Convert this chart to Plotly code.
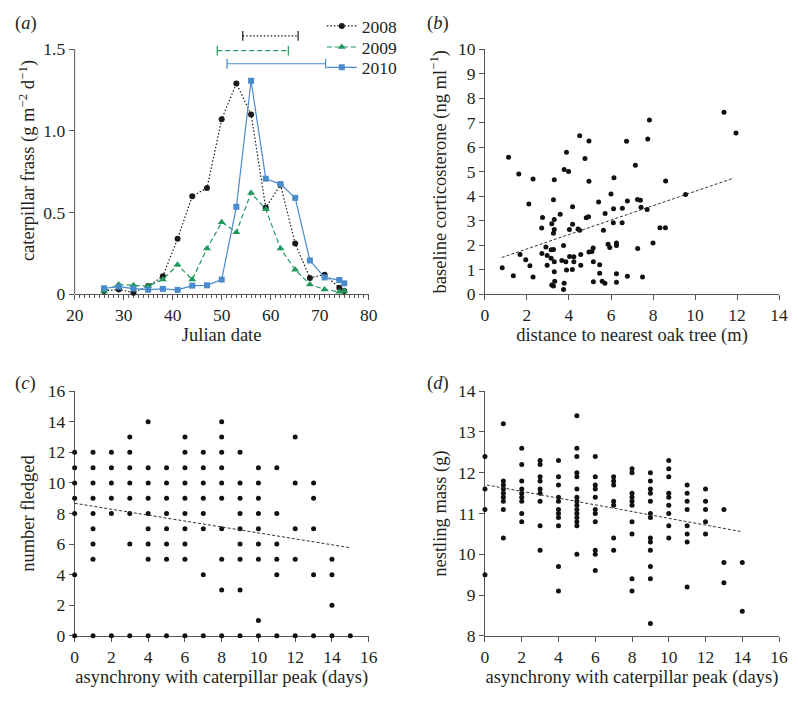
import plotly.graph_objects as go

FONT = "Liberation Serif"
TXT = "#231f20"
AX = "#555555"
C08 = "#1a1a1a"
C09 = "#1f9a5b"
C10 = "#4a8bcb"

# ---------------- (a) caterpillar frass ----------------
julian_day = [26, 29, 32, 35, 38, 41, 44, 47, 50, 53, 56, 59, 62, 65, 68, 71, 74, 75]
frass_2008 = [0.02, 0.03, 0.01, 0.05, 0.11, 0.34, 0.60, 0.65, 1.07, 1.29, 1.10, 0.53, 0.67, 0.31, 0.10, 0.12, 0.04, 0.02]
frass_2009 = [0.02, 0.06, 0.055, 0.05, 0.09, 0.18, 0.09, 0.28, 0.44, 0.38, 0.62, 0.52, 0.28, 0.15, 0.06, 0.03, 0.015, 0.02]
frass_2010 = [0.037, 0.047, 0.035, 0.028, 0.033, 0.027, 0.053, 0.055, 0.09, 0.535, 1.306, 0.707, 0.674, 0.59, 0.207, 0.103, 0.087, 0.067]
years = ["2008", "2009", "2010"]
peak_lo = [54.3, 49.1, 51.1]
peak_hi = [65.6, 63.6, 71.2]
peak_y = [1.58, 1.49, 1.41]

# ---------------- (b) corticosterone ----------------
oak_dist = [0.82, 1.12, 1.35, 1.61, 1.67, 1.94, 2.09, 2.14, 2.29, 2.29,
            2.70, 2.74, 2.71, 2.90, 2.96, 2.96, 3.18, 3.15, 3.15, 3.18,
            3.26, 3.26, 3.26, 3.30, 3.30, 3.30, 3.26, 3.30, 3.30, 3.32,
            3.58, 3.66, 3.74, 3.77, 3.74, 3.77, 3.88, 3.85, 3.88, 3.98,
            4.02, 4.03, 4.17, 4.17, 4.16, 4.23, 4.23, 4.43, 4.51, 4.51,
            4.56, 4.56, 4.76, 4.82, 4.93, 4.95, 4.95, 4.95, 5.09, 5.15,
            5.16, 5.16, 5.41, 5.46, 5.46, 5.58, 5.64, 5.71, 5.72, 5.86,
            5.94, 6.00, 6.14, 6.11, 6.12, 6.26, 6.26, 6.26, 6.26, 6.54,
            6.53, 6.74, 6.78, 6.78, 7.16, 7.26, 7.27, 7.40, 7.43, 7.50,
            7.75, 7.72, 7.83, 8.00, 8.33, 8.59, 8.60, 9.55, 11.38, 11.95]
cort = [1.08, 5.59, 0.76, 4.91, 1.62, 1.41, 3.68, 1.16, 4.70, 0.71,
        2.70, 3.13, 1.66, 1.93, 1.58, 1.18, 2.88, 1.47, 1.82, 0.38,
        1.83, 3.86, 2.49, 2.64, 3.05, 4.67, 0.34, 1.33, 0.92, 0.53,
        3.26, 1.38, 1.99, 0.45, 0.20, 5.09, 5.79, 1.33, 0.99, 5.01,
        2.64, 1.54, 3.57, 2.86, 1.01, 1.53, 1.33, 2.66, 6.46, 2.61,
        1.62, 1.18, 5.54, 3.12, 3.16, 6.25, 4.61, 1.72, 1.74, 1.89,
        1.33, 0.51, 3.76, 1.20, 0.86, 0.53, 2.61, 0.45, 3.29, 2.04,
        1.91, 4.09, 4.75, 2.92, 3.49, 2.09, 1.99, 0.84, 0.49, 3.51,
        2.92, 6.24, 3.80, 0.74, 5.26, 3.87, 1.87, 3.83, 3.55, 0.71,
        6.33, 3.46, 7.11, 2.09, 2.71, 2.71, 4.62, 4.07, 7.42, 6.58]
b_fit_x = [0.8, 11.85]
b_fit_y = [1.50, 4.74]

# ---------------- (c) number fledged ----------------
c_asynchrony = [
    0, 0, 0, 0, 0, 0, 0,
    1, 1, 1, 1, 1, 1, 1, 1, 1,
    2, 2, 2, 2, 2, 2,
    3, 3, 3, 3, 3, 3, 3, 3,
    4, 4, 4, 4, 4, 4, 4, 4, 4,
    5, 5, 5, 5, 5, 5, 5, 5,
    6, 6, 6, 6, 6, 6, 6, 6, 6, 6,
    7, 7, 7, 7, 7, 7, 7, 7,
    8, 8, 8, 8, 8, 8, 8, 8, 8, 8,
    9, 9, 9, 9, 9, 9, 9, 9, 9,
    10, 10, 10, 10, 10, 10, 10, 10, 10,
    11, 11, 11, 11, 11, 11,
    12, 12, 12, 12, 12,
    13, 13, 13, 13, 13,
    14, 14, 14, 14,
    15]
c_fledged = [
    12, 11, 10, 9, 8, 4, 0,
    12, 11, 10, 9, 8, 7, 6, 5, 0,
    12, 11, 10, 9, 8, 0,
    13, 12, 11, 10, 9, 8, 6, 0,
    14, 11, 10, 9, 8, 7, 6, 5, 0,
    11, 10, 9, 8, 7, 6, 5, 0,
    13, 12, 11, 10, 9, 8, 7, 6, 5, 0,
    12, 11, 10, 9, 8, 7, 4, 0,
    14, 13, 12, 11, 10, 9, 7, 5, 3, 0,
    12, 10, 9, 8, 7, 6, 5, 3, 0,
    11, 10, 9, 8, 7, 6, 5, 1, 0,
    11, 8, 6, 5, 4, 0,
    13, 10, 7, 5, 0,
    10, 9, 7, 4, 0,
    5, 4, 2, 0,
    0]
c_fit_x = [0, 14.95]
c_fit_y = [8.67, 5.77]

# ---------------- (d) nestling mass ----------------
d_asynchrony = [
    0, 0, 0, 0,
    1, 1, 1, 1, 1, 1, 1, 1, 1,
    2, 2, 2, 2, 2, 2, 2, 2, 2,
    3, 3, 3, 3, 3, 3, 3, 3, 3,
    4, 4, 4, 4, 4, 4, 4, 4, 4, 4, 4,
    5, 5, 5, 5, 5, 5, 5, 5, 5, 5, 5, 5, 5, 5, 5,
    6, 6, 6, 6, 6, 6, 6, 6, 6, 6, 6,
    7, 7, 7, 7, 7, 7, 7,
    8, 8, 8, 8, 8, 8, 8, 8, 8, 8,
    9, 9, 9, 9, 9, 9, 9, 9, 9, 9, 9, 9, 9,
    10, 10, 10, 10, 10, 10, 10, 10, 10,
    11, 11, 11, 11, 11, 11, 11, 11,
    12, 12, 12, 12, 12,
    13, 13, 13,
    14, 14]
d_mass = [
    12.4, 11.6, 11.1, 9.5,
    13.2, 11.8, 11.7, 11.6, 11.5, 11.4, 11.3, 11.1, 10.4,
    12.6, 12.2, 11.8, 11.6, 11.5, 11.4, 11.3, 11.0, 10.8,
    12.3, 12.2, 11.9, 11.8, 11.6, 11.5, 11.3, 10.7, 10.1,
    12.3, 11.9, 11.7, 11.4, 11.3, 11.1, 11.0, 10.9, 10.7, 9.7, 9.1,
    13.4, 12.6, 12.4, 12.0, 11.9, 11.6, 11.4, 11.3, 11.2, 11.1, 11.0, 10.9, 10.8, 10.7, 10.0,
    12.4, 11.9, 11.7, 11.6, 11.4, 11.1, 11.0, 10.8, 10.1, 10.0, 9.6,
    11.9, 11.8, 11.7, 11.3, 11.2, 10.4, 10.1,
    12.1, 12.0, 11.5, 11.4, 11.3, 11.2, 10.8, 10.5, 9.4, 9.1,
    12.0, 11.8, 11.6, 11.5, 11.3, 11.0, 10.9, 10.4, 10.3, 10.1, 9.7, 9.4, 8.3,
    12.3, 12.1, 11.9, 11.5, 11.4, 11.2, 11.0, 10.7, 10.4,
    11.7, 11.5, 11.3, 11.1, 10.7, 10.5, 10.3, 9.2,
    11.6, 11.3, 11.1, 10.8, 10.5,
    11.1, 9.8, 9.3,
    9.8, 8.6]
d_fit_x = [0.1, 13.9]
d_fit_y = [11.70, 10.56]

# ---------------- geometry (target screen pixels) ----------------
PAGE_W, PAGE_H = 798, 701
BODY = 8                       # default page margin around the figure
W, H = PAGE_W - 2 * BODY, PAGE_H - 2 * BODY

def px_x(p):
    return (p - BODY) / W

def px_y(p):
    return 1 - (p - BODY) / H

LX = [67, 368]
RX = [487, 788]
TOPY = [292, 39]
BOTY = [644.3, 392]
a_top_px = 16
a_unit = (TOPY[0] - TOPY[1]) / 1.5
a_ymax = (TOPY[0] - a_top_px) / a_unit

# ---------------- figure ----------------
fig = go.Figure()

series = [
    (frass_2008, C08, "1.5px,2px", "circle", 6),
    (frass_2009, C09, "5px,3px", "triangle-up", 7),
    (frass_2010, C10, "solid", "square", 6),
]
legends = ["legend", "legend2", "legend3"]
for i, (vals, col, dash, sym, sz) in enumerate(series):
    fig.add_trace(go.Scatter(
        x=julian_day, y=vals, name=years[i], mode="lines+markers",
        line=dict(color=col, width=1.2, dash=dash),
        marker=dict(color=col, symbol=sym, size=sz),
        xaxis="x", yaxis="y", cliponaxis=False, legend=legends[i]))

for i, (vals, col, dash, sym, sz) in enumerate(series):
    fig.add_trace(go.Scatter(
        x=[peak_lo[i], peak_hi[i]], y=[peak_y[i], peak_y[i]],
        mode="lines+markers", showlegend=False, hoverinfo="skip",
        line=dict(color=col, width=1.2, dash=dash),
        marker=dict(color=col, symbol="line-ns-open", size=7, line=dict(color=col, width=1.2)),
        xaxis="x", yaxis="y", cliponaxis=False))

dot = dict(color="#111111", size=5)
fit_line = dict(color="#333333", width=1, dash="3px,2px")

fig.add_trace(go.Scatter(x=oak_dist, y=cort, mode="markers", marker=dot,
                         showlegend=False, xaxis="x2", yaxis="y2", cliponaxis=False))
fig.add_trace(go.Scatter(x=b_fit_x, y=b_fit_y, mode="lines", line=fit_line,
                         showlegend=False, xaxis="x2", yaxis="y2"))

fig.add_trace(go.Scatter(x=c_asynchrony, y=c_fledged, mode="markers", marker=dot,
                         showlegend=False, xaxis="x3", yaxis="y3", cliponaxis=False))
fig.add_trace(go.Scatter(x=c_fit_x, y=c_fit_y, mode="lines", line=fit_line,
                         showlegend=False, xaxis="x3", yaxis="y3"))

fig.add_trace(go.Scatter(x=d_asynchrony, y=d_mass, mode="markers", marker=dot,
                         showlegend=False, xaxis="x4", yaxis="y4", cliponaxis=False))
fig.add_trace(go.Scatter(x=d_fit_x, y=d_fit_y, mode="lines", line=fit_line,
                         showlegend=False, xaxis="x4", yaxis="y4"))

tickfont = dict(family=FONT, size=17.5, color=TXT)
titlefont = dict(family=FONT, size=18.5, color=TXT)
base = dict(showline=True, linecolor=AX, linewidth=1, ticks="outside", ticklen=5,
            tickcolor=AX, tickwidth=1, showgrid=False, zeroline=False,
            tickfont=tickfont, layer="below traces")

legend_common = dict(xanchor="left", yanchor="middle", itemwidth=30,
                     font=dict(family=FONT, size=17.5, color=TXT),
                     bgcolor="rgba(0,0,0,0)")
leg_cy = [15, 37, 58]
leg_x = 320

fig.update_layout(
    width=W, height=H, margin=dict(l=0, r=0, t=0, b=0),
    paper_bgcolor="white", plot_bgcolor="white",
    font=dict(family=FONT, size=17, color=TXT),
    xaxis=dict(base, domain=[px_x(LX[0]), px_x(LX[1])], range=[20, 80], dtick=10,
               anchor="y", minor=dict(dtick=1, ticks="outside", ticklen=3, tickcolor=AX),
               title=dict(text="Julian date", font=titlefont, standoff=2)),
    yaxis=dict(base, domain=[px_y(TOPY[0]), px_y(a_top_px)], range=[0, a_ymax],
               tickvals=[0, 0.5, 1.0, 1.5], ticktext=["0", "0.5", "1.0", "1.5"],
               showline=False, anchor="x",
               title=dict(text="caterpillar frass (g m<sup>−2</sup> d<sup>−1</sup>)",
                          font=titlefont, standoff=3)),
    xaxis2=dict(base, domain=[px_x(RX[0]), px_x(RX[1])], range=[0, 14], dtick=2, anchor="y2",
                title=dict(text="distance to nearest oak tree (m)", font=titlefont, standoff=3)),
    yaxis2=dict(base, domain=[px_y(TOPY[0]), px_y(TOPY[1])], range=[0, 10], dtick=1, anchor="x2",
                title=dict(text="baseline corticosterone (ng ml<sup>−1</sup>)", font=titlefont, standoff=6)),
    xaxis3=dict(base, domain=[px_x(LX[0]), px_x(LX[1])], range=[0, 16], dtick=2, anchor="y3",
                title=dict(text="asynchrony with caterpillar peak (days)", font=titlefont, standoff=3)),
    yaxis3=dict(base, domain=[px_y(BOTY[0]), px_y(BOTY[1])], range=[0, 16], dtick=2, anchor="x3",
                title=dict(text="number fledged", font=titlefont, standoff=8)),
    xaxis4=dict(base, domain=[px_x(RX[0]), px_x(RX[1])], range=[0, 16], dtick=2, anchor="y4",
                title=dict(text="asynchrony with caterpillar peak (days)", font=titlefont, standoff=3)),
    yaxis4=dict(base, domain=[px_y(BOTY[0]), px_y(BOTY[1])], range=[8, 14], dtick=1, anchor="x4",
                title=dict(text="nestling mass (g)", font=titlefont, standoff=6)),
    legend=dict(legend_common, x=px_x(leg_x), y=px_y(leg_cy[0])),
    legend2=dict(legend_common, x=px_x(leg_x), y=px_y(leg_cy[1])),
    legend3=dict(legend_common, x=px_x(leg_x), y=px_y(leg_cy[2])),
    showlegend=True,
)

# y-axis line of panel (a) stops at 1.5
fig.add_shape(type="line", xref="x domain", yref="y", x0=0, x1=0, y0=0, y1=1.5,
              line=dict(color=AX, width=1), layer="below")

labels = [("(<i>a</i>)", 4, 13), ("(<i>b</i>)", 426, 13), ("(<i>c</i>)", 4, 384), ("(<i>d</i>)", 426, 384)]
for txt, x, y in labels:
    fig.add_annotation(text=txt, x=px_x(x), y=px_y(y), xref="paper", yref="paper",
                       xanchor="left", yanchor="middle", showarrow=False,
                       font=dict(family=FONT, size=18.5, color=TXT))

fig.write_html("out.html")
